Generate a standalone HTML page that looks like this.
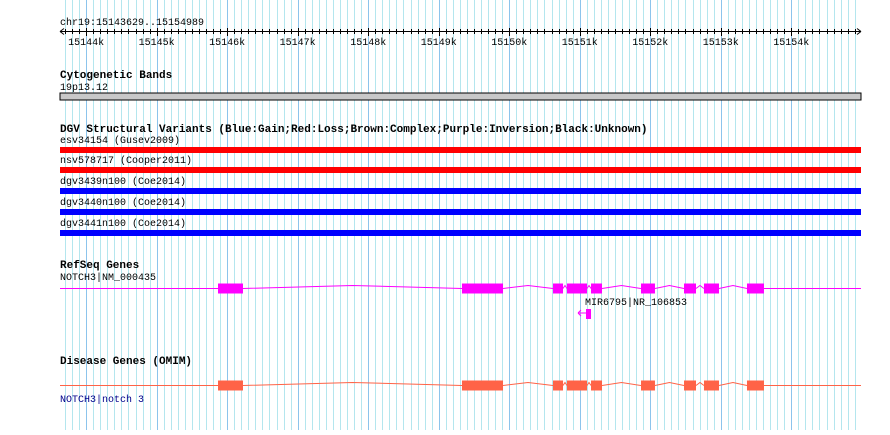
<!DOCTYPE html>
<html><head><meta charset="utf-8"><style>
body{margin:0;background:#fff}
svg text{font-family:"Liberation Mono",monospace;font-size:10px}
.t{font-weight:bold;font-size:11px}
</style></head><body>
<svg width="890" height="430" xmlns="http://www.w3.org/2000/svg">
<g id="grid"></g>
<g id="ruler"></g>
<text x="60" y="25">chr19:15143629..15154989</text>
<text class="t" x="60" y="78">Cytogenetic Bands</text>
<text x="60" y="90">19p13.12</text>
<rect x="60" y="93" width="801" height="7" fill="#c8c8c8" stroke="#000"/>
<text class="t" x="60" y="132">DGV Structural Variants (Blue:Gain;Red:Loss;Brown:Complex;Purple:Inversion;Black:Unknown)</text>
<g id="dgv"></g>
<text class="t" x="60" y="268">RefSeq Genes</text>
<text x="60" y="280">NOTCH3|NM_000435</text>
<g id="refseq"></g>
<text x="585" y="305">MIR6795|NR_106853</text>
<path d="M578 313 H586 M578 313 l3 -3 M578 313 l3 3" stroke="#f0f" fill="none"/>
<rect x="586" y="309" width="5" height="10" fill="#f0f"/>
<text class="t" x="60" y="364">Disease Genes (OMIM)</text>
<g id="omim"></g>
<text x="60" y="402" fill="#00008b">NOTCH3|notch 3</text>
</svg>
<script>
const regionStart = 15143629, regionEnd = 15154989;
const tickLabels = ["15144k","15145k","15146k","15147k","15148k","15149k","15150k","15151k","15152k","15153k","15154k"];
const dgvNames = ["esv34154 (Gusev2009)","nsv578717 (Cooper2011)","dgv3439n100 (Coe2014)","dgv3440n100 (Coe2014)","dgv3441n100 (Coe2014)"];
const dgvTypes = ["loss","loss","gain","gain","gain"];
const exonStarts = [15145870,15149330,15150621,15150819,15151160,15151869,15152479,15152762,15153372];
const exonEnds = [15146224,15149912,15150763,15151103,15151316,15152067,15152649,15152975,15153613];
const NS="http://www.w3.org/2000/svg";
const X0=60, X1=861;
const sx=v=>X0+(v-regionStart)/(regionEnd-regionStart)*(X1-X0);
function mk(t,a,p){const e=document.createElementNS(NS,t);for(const k in a)e.setAttribute(k,a[k]);p.appendChild(e);return e;}
const grid=document.getElementById('grid');
for(let b=Math.ceil(regionStart/100)*100;b<=regionEnd;b+=100){
  const x=Math.round(sx(b))+0.5, major=b%1000===0;
  const l=mk('line',{x1:x,x2:x,y1:0,y2:430,stroke:major?'#8cc4ec':'#b4e6ee','stroke-width':1},grid);
  
  
}
const ruler=document.getElementById('ruler');
mk('line',{x1:X0,x2:X1,y1:31.5,y2:31.5,stroke:'#000'},ruler);
mk('path',{d:`M${X0} 31.5 l4 -3 M${X0} 31.5 l4 3 M${X1} 31.5 l-4 -3 M${X1} 31.5 l-4 3`,stroke:'#000',fill:'none'},ruler);
for(let b=Math.ceil(regionStart/100)*100;b<=regionEnd;b+=100){
  const x=Math.round(sx(b))+0.5, major=b%1000===0;
  mk('line',{x1:x,x2:x,y1:major?28:29,y2:major?36:34,stroke:'#000'},ruler);
}
tickLabels.forEach((t,i)=>{
  const b=parseInt(t)*1000;
  const tx=mk('text',{x:sx(b),y:45,'text-anchor':'middle','font-family':'Liberation Sans, sans-serif','font-size':'11'},ruler);
  
  
  tx.textContent=t;
});
const dgv=document.getElementById('dgv');
dgvNames.forEach((n,i)=>{
  const y=[147,167,188,209,230][i];
  const t=mk('text',{x:60,y:y-4},dgv);t.textContent=n;
  
  
  const r=mk('rect',{x:X0,y:y,width:X1-X0,height:6,fill:dgvTypes[i]==='loss'?'#f00':'#00f'},dgv);
  
  
});
function gene(g,y,col,h){
  let d=`M${X0} ${y} L${sx(exonStarts[0])} ${y}`;
  for(let i=0;i<exonStarts.length-1;i++){
    const a=sx(exonEnds[i]),b=sx(exonStarts[i+1]);
    d+=` M${a} ${y} L${(a+b)/2} ${y-3} L${b} ${y}`;
  }
  d+=` M${sx(exonEnds[exonEnds.length-1])} ${y} L${X1} ${y}`;
  const p=mk('path',{d:d,stroke:col,fill:'none','stroke-width':1},g);
  
  
  exonStarts.forEach((s,i)=>{
    const r=mk('rect',{x:sx(s),y:y-h/2,width:sx(exonEnds[i])-sx(s),height:h,fill:col},g);
    
    
  });
}
gene(document.getElementById('refseq'),288.5,'#f0f',10);
gene(document.getElementById('omim'),385.5,'#ff6347',10);
</script>
</body></html>
